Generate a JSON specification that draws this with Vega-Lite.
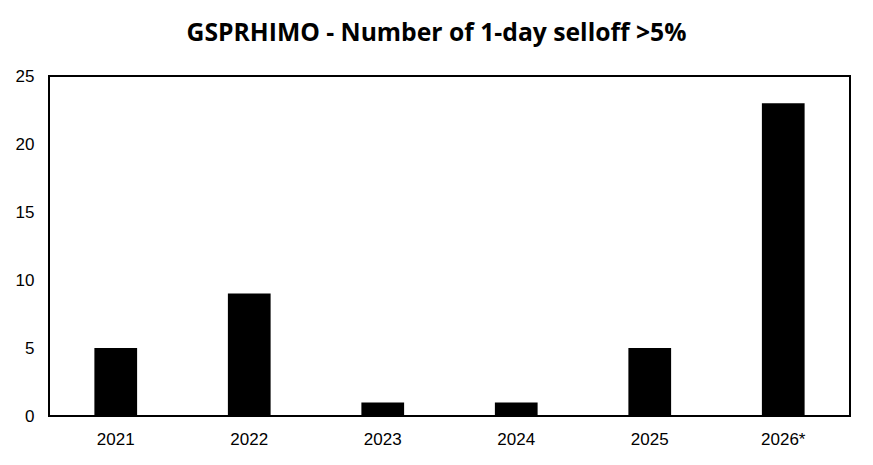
{
  "$schema": "https://vega.github.io/schema/vega-lite/v6.json",
  "autosize": "none",
  "width": 801,
  "height": 340,
  "padding": {"left": 49, "top": 76, "right": 23, "bottom": 49},
  "background": "white",
  "title": {
    "text": "GSPRHIMO - Number of 1-day selloff >5%",
    "font": "Open Sans",
    "fontSize": 24.7,
    "fontWeight": "bold",
    "color": "black",
    "anchor": "middle",
    "dx": -13,
    "offset": 21
  },
  "data": {
    "values": [
      {"year": "2021", "count": 5},
      {"year": "2022", "count": 9},
      {"year": "2023", "count": 1},
      {"year": "2024", "count": 1},
      {"year": "2025", "count": 5},
      {"year": "2026*", "count": 23}
    ]
  },
  "mark": {"type": "bar", "color": "black"},
  "encoding": {
    "x": {
      "field": "year",
      "type": "ordinal",
      "sort": null,
      "scale": {"paddingInner": 0.68, "paddingOuter": 0.34},
      "axis": {"title": null, "labelAngle": 0, "ticks": false, "domain": false, "labelPadding": 15, "labelFont": "Liberation Sans", "labelFontSize": 17, "labelColor": "black"}
    },
    "y": {
      "field": "count",
      "type": "quantitative",
      "scale": {"domain": [0, 25], "nice": false},
      "axis": {"title": null, "values": [0, 5, 10, 15, 20, 25], "ticks": false, "domain": false, "grid": false, "labelPadding": 15, "labelFont": "Liberation Sans", "labelFontSize": 17, "labelColor": "black"}
    }
  },
  "config": {
    "view": {"stroke": "black", "strokeWidth": 2}
  }
}
